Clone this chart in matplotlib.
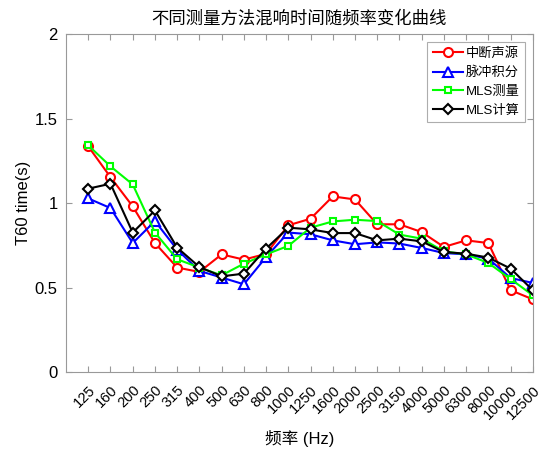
import matplotlib
matplotlib.use("Agg")
import matplotlib.pyplot as plt
from matplotlib.transforms import ScaledTranslation

plt.rcParams['font.family'] = ['Liberation Sans', 'Noto Sans CJK SC', 'DejaVu Sans']

# octave band centre frequencies (Hz)
bands = ["125", "160", "200", "250", "315", "400", "500", "630", "800", "1000",
         "1250", "1600", "2000", "2500", "3150", "4000", "5000", "6300", "8000",
         "10000", "12500"]

# T60 per band for each measurement
t60_interrupt = [1.336, 1.154, 0.981, 0.764, 0.619, 0.593, 0.697, 0.666, 0.700, 0.869,
                 0.908, 1.040, 1.022, 0.875, 0.875, 0.829, 0.741, 0.780, 0.764, 0.485, 0.431]
t60_impulse = [1.028, 0.971, 0.764, 0.894, 0.725, 0.599, 0.560, 0.520, 0.681, 0.826,
               0.816, 0.780, 0.757, 0.768, 0.761, 0.735, 0.705, 0.697, 0.672, 0.557, 0.528]
t60_mls_a = [1.342, 1.218, 1.111, 0.826, 0.668, 0.619, 0.573, 0.642, 0.697, 0.747,
             0.855, 0.892, 0.902, 0.894, 0.814, 0.790, 0.715, 0.697, 0.646, 0.551, 0.455]
t60_mls_b = [1.086, 1.115, 0.826, 0.957, 0.737, 0.622, 0.567, 0.583, 0.731, 0.855,
             0.845, 0.823, 0.823, 0.780, 0.790, 0.774, 0.711, 0.701, 0.678, 0.613, 0.485]

names = ["中断声源", "脉冲积分", "MLS测量", "MLS计算"]
yticks = [0, 0.5, 1, 1.5, 2]
yticklabels = ["0", "0.5", "1", "1.5", "2"]

fig = plt.figure(figsize=(5.55, 4.5), dpi=100)
ax = fig.add_axes([0.119, 0.173, 0.841, 0.751])

x = range(1, len(bands) + 1)
ax.plot(x, t60_interrupt, color="red", lw=1.5, marker="o", ms=6.5, mfc="white", mew=1.5, label=names[0])
ax.plot(x, t60_impulse, color="blue", lw=1.5, marker="^", ms=6.5, mfc="white", mew=1.5, label=names[1])
ax.plot(x, t60_mls_a, color="#00ff00", lw=1.5, marker="s", ms=5, mfc="white", mew=1.5, label=names[2])
ax.plot(x, t60_mls_b, color="black", lw=1.5, marker="D", ms=5.5, mfc="white", mew=1.5, label=names[3])

ax.set_xlim(0, len(bands))
ax.set_ylim(0, 2)
ax.set_xticks(list(x))
ax.set_xticklabels(bands, rotation=45, ha="right", rotation_mode="anchor", fontsize=10.5)
# nudge the slanted labels a little to the right of their ticks
shift = ScaledTranslation(5 / 72, 0, fig.dpi_scale_trans)
for lbl in ax.get_xticklabels():
    lbl.set_transform(lbl.get_transform() + shift)
ax.set_yticks(yticks)
ax.set_yticklabels(yticklabels, fontsize=12)
ax.tick_params(direction="in", top=True, right=True, length=4, color="#999999", pad=6)
ax.tick_params(axis="x", pad=8)
for s in ax.spines.values():
    s.set_color("#999999")

ax.set_title("不同测量方法混响时间随频率变化曲线", fontsize=12.5, pad=8)
ax.set_xlabel("频率 (Hz)", fontsize=12)
ax.xaxis.set_label_coords(0.5, -0.172)
ax.set_ylabel("T60 time(s)", fontsize=12)
ax.yaxis.set_label_coords(-0.075, 0.5)

leg = ax.legend(loc="upper right", fontsize=9.5, fancybox=False, edgecolor="#999999",
                handlelength=2.3, handletextpad=0.2, borderaxespad=0.6, labelspacing=0.5)
leg.get_frame().set_linewidth(0.8)

fig.savefig("out.png", dpi=100)
